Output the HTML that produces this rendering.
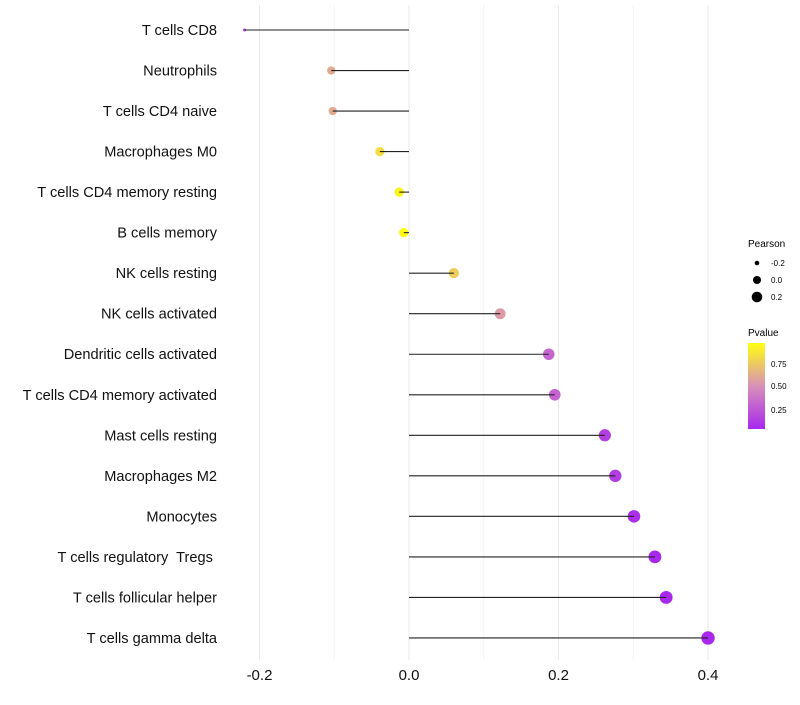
<!DOCTYPE html>
<html><head><meta charset="utf-8">
<style>
body{margin:0;background:#fff;font-family:"Liberation Sans",sans-serif;}
svg text{font-family:"Liberation Sans",sans-serif;white-space:pre;}
</style></head>
<body>
<svg id="chart" width="800" height="700">
<defs>
<linearGradient id="pgrad" x1="0" y1="1" x2="0" y2="0">
<stop offset="0" stop-color="#A828EE"/>
<stop offset="0.5" stop-color="#D890B8"/>
<stop offset="1" stop-color="#FFFF10"/>
</linearGradient>
</defs>
<g id="grid"></g><g id="marks"></g><g id="labels"></g>
<g>
<text x="748" y="247" font-size="10">Pearson</text>
<circle cx="757" cy="263" r="2.3" fill="#000"/>
<text x="771" y="266" font-size="8">-0.2</text>
<circle cx="757" cy="280" r="4" fill="#000"/>
<text x="771" y="283" font-size="8">0.0</text>
<circle cx="757" cy="297" r="5.3" fill="#000"/>
<text x="771" y="300" font-size="8">0.2</text>
<text x="748" y="336" font-size="10">Pvalue</text>
<rect x="748" y="343" width="17" height="86" fill="url(#pgrad)"/>
<text x="771" y="367" font-size="8">0.75</text>
<text x="771" y="389" font-size="8">0.50</text>
<text x="771" y="413" font-size="8">0.25</text>
</g>
</svg>
<script>
const categories=["T cells CD8","Neutrophils","T cells CD4 naive","Macrophages M0","T cells CD4 memory resting","B cells memory","NK cells resting","NK cells activated","Dendritic cells activated","T cells CD4 memory activated","Mast cells resting","Macrophages M2","Monocytes","T cells regulatory  Tregs ","T cells follicular helper","T cells gamma delta"];
const pearson=[-0.22,-0.104,-0.102,-0.039,-0.013,-0.007,0.060,0.122,0.187,0.195,0.262,0.276,0.301,0.329,0.344,0.400];
const pvalues=[0.12,0.62,0.62,0.85,0.95,0.98,0.78,0.55,0.32,0.30,0.15,0.14,0.08,0.05,0.04,0.02];
const xTicks=[-0.2,0.0,0.2,0.4];
const xMinor=[-0.1,0.1,0.3];
const NS="http://www.w3.org/2000/svg";
function xs(v){return 409+v*(149.5/0.2);}
function ys(i){return 30+i*40.53;}
function rs(v){return v<-0.15?1.5:Math.sqrt(Math.max(2,23+55*v));}
function lerp(a,b,t){return Math.round(a+(b-a)*t);}
function col(p){const s=[[0.05,[168,40,238]],[0.5,[216,144,184]],[1,[255,255,16]]];
 if(p<=s[0][0])return "rgb(168,40,238)";
 for(let k=0;k<2;k++){const[a,ca]=s[k],[b,cb]=s[k+1];if(p<=b){const t=(p-a)/(b-a);return `rgb(${lerp(ca[0],cb[0],t)},${lerp(ca[1],cb[1],t)},${lerp(ca[2],cb[2],t)})`;}}
 return "rgb(255,255,16)";}
function mk(tag,attrs,parent){const e=document.createElementNS(NS,tag);for(const k in attrs)e.setAttribute(k,attrs[k]);parent.appendChild(e);return e;}
const grid=document.getElementById('grid'),marks=document.getElementById('marks'),labels=document.getElementById('labels');
xMinor.forEach(v=>{const l=mk('line',{x1:xs(v),x2:xs(v),y1:5,y2:660,stroke:'#f2f2f2','stroke-width':1},grid);

});
xTicks.forEach(v=>{const l=mk('line',{x1:xs(v),x2:xs(v),y1:5,y2:660,stroke:'#ebebeb','stroke-width':1.1},grid);


const t=mk('text',{x:xs(v),y:680,'font-size':15,'text-anchor':'middle',fill:'#111'},labels);
t.textContent=v.toFixed(1);

});
categories.forEach((c,i)=>{const y=ys(i);
const t=mk('text',{x:217,y:y+5,'font-size':14.6,'text-anchor':'end',fill:'#111'},labels);
t.textContent=c;


const d=mk('circle',{cx:xs(pearson[i]),cy:y,r:rs(pearson[i]),fill:col(pvalues[i])},marks);


const s=mk('line',{x1:xs(0),x2:xs(pearson[i]),y1:y,y2:y,stroke:'#222','stroke-width':1.1},marks);

});
</script>
</body></html>
